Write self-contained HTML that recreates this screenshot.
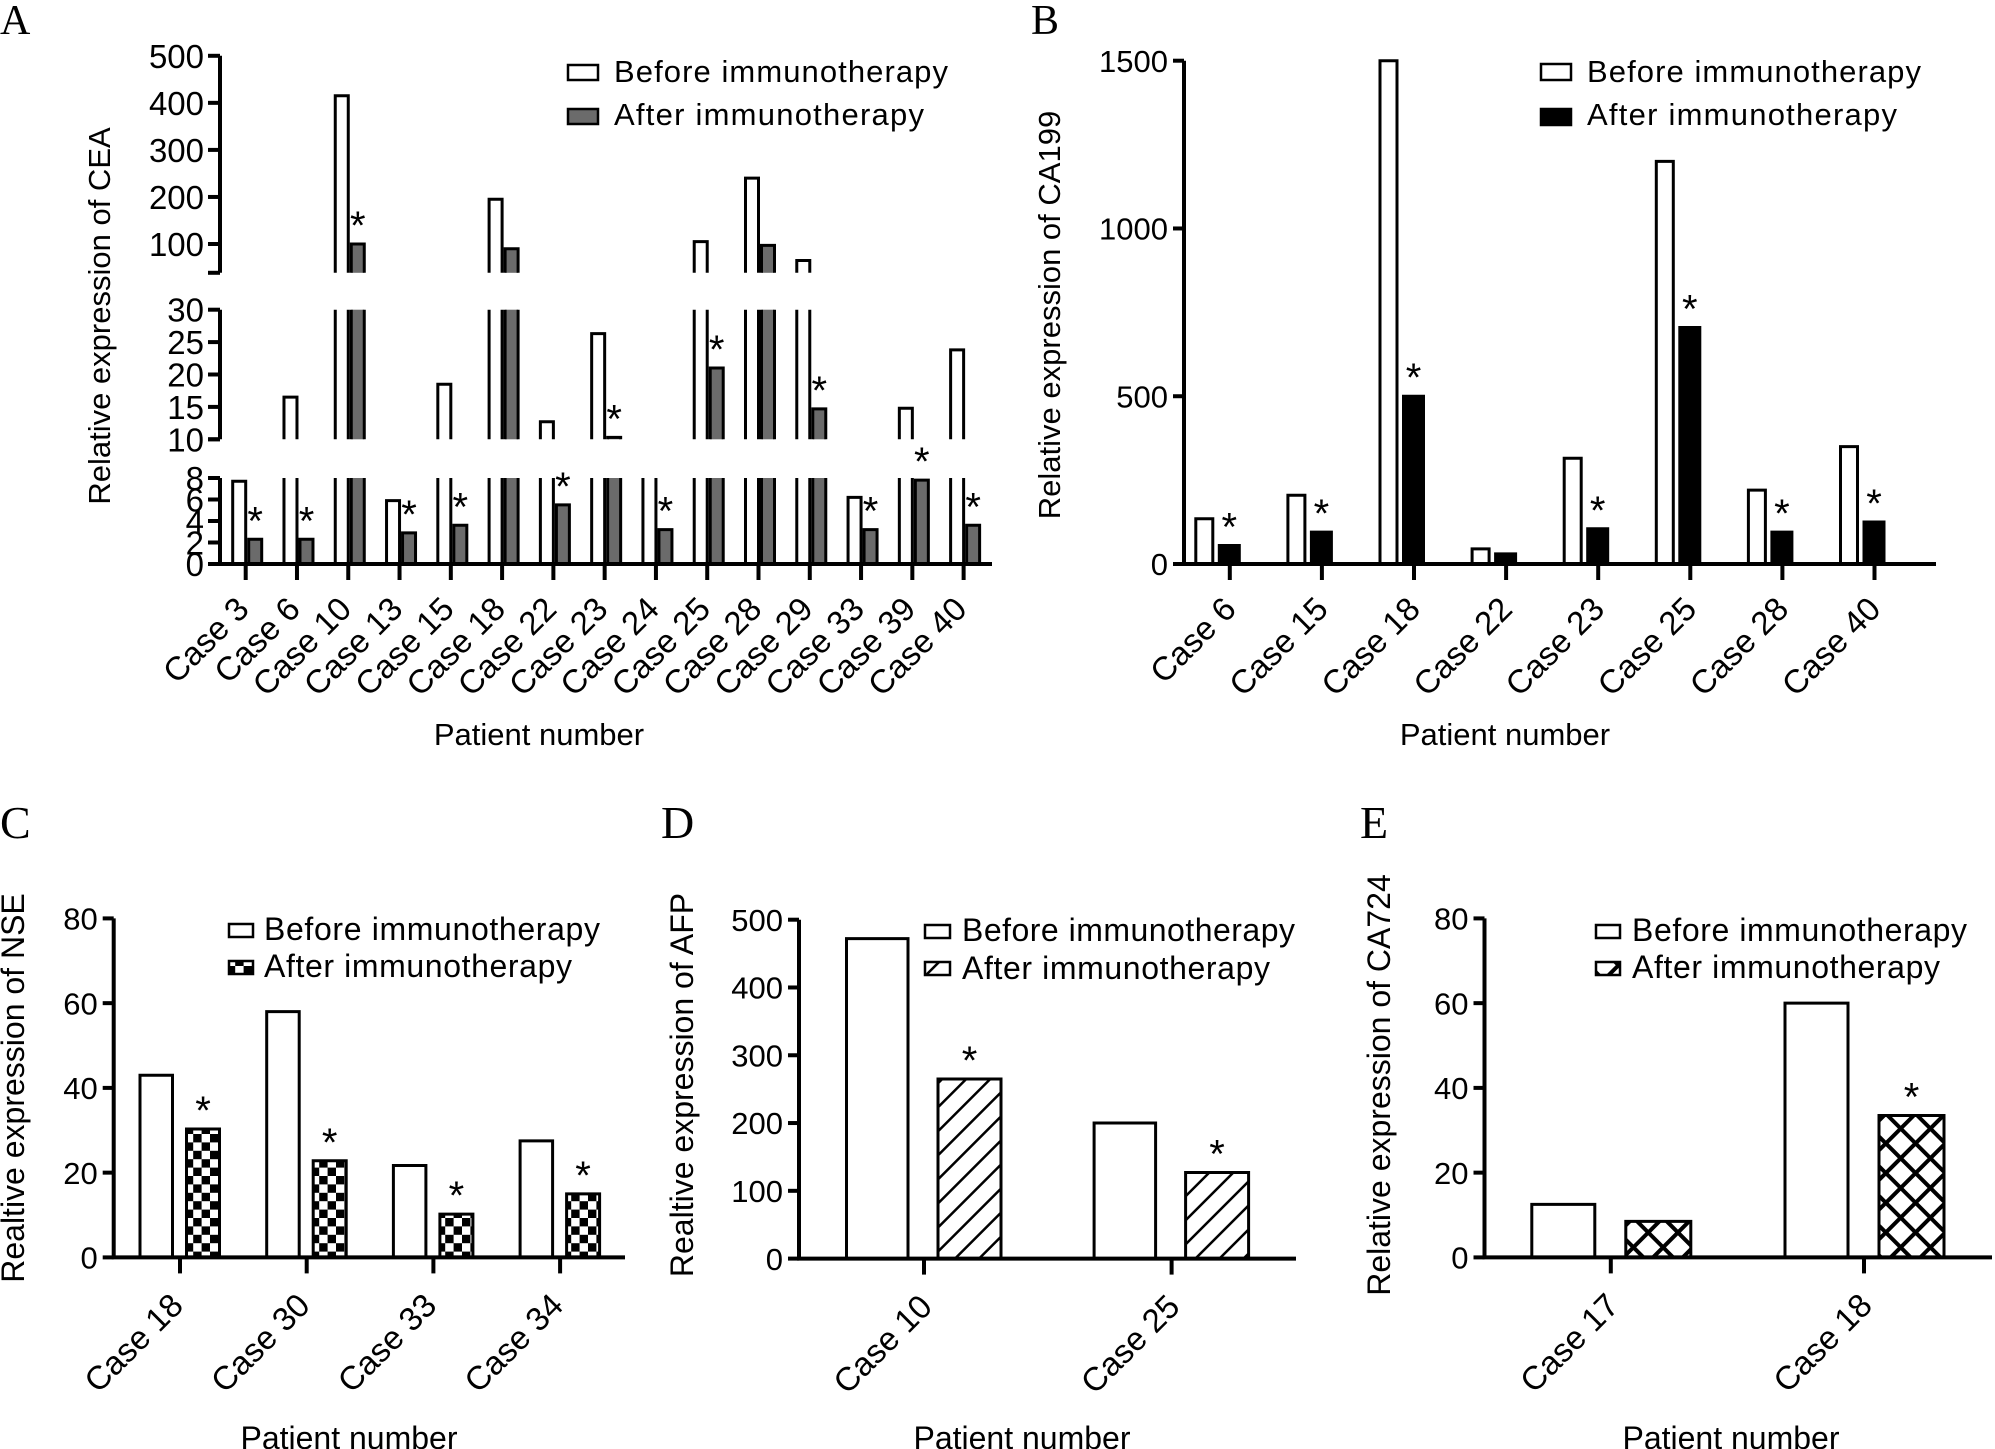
<!DOCTYPE html>
<html><head><meta charset="utf-8"><style>
html,body{margin:0;padding:0;background:#fff;}
svg{display:block;font-family:"Liberation Sans",Arial,sans-serif;}
.panel-letter{font-family:"Liberation Serif",serif;}
</style></head>
<body>
<svg id="fig" width="1995" height="1449" viewBox="0 0 1995 1449">
<defs>
<pattern id="checker" width="16.8" height="16.8" patternUnits="userSpaceOnUse">
<rect width="16.8" height="16.8" fill="#fff"/><rect width="8.4" height="8.4" fill="#000"/><rect x="8.4" y="8.4" width="8.4" height="8.4" fill="#000"/>
</pattern>
<pattern id="hatch" width="17" height="17" patternUnits="userSpaceOnUse" patternTransform="rotate(45)">
<rect width="17" height="17" fill="#fff"/><line x1="0" y1="0" x2="0" y2="17" stroke="#000" stroke-width="5"/>
</pattern>
<pattern id="cross" width="21" height="21" patternUnits="userSpaceOnUse" patternTransform="rotate(45)">
<rect width="21" height="21" fill="#000"/><rect x="2" y="2" width="17" height="17" fill="#fff"/>
</pattern>
</defs>
</svg>
<script>
// ---- Panel A (CEA) data ----
const catsA = ["Case 3","Case 6","Case 10","Case 13","Case 15","Case 18","Case 22","Case 23","Case 24","Case 25","Case 28","Case 29","Case 33","Case 39","Case 40"];
const beforeA = [7.7,16.5,415,5.9,18.5,195,12.7,26.3,8.4,105,240,65,6.2,14.8,23.8];
const afterA = [2.3,2.3,100,2.9,3.6,90,5.5,10.3,3.2,21,97,14.7,3.2,7.8,3.6];
const starsA = [1,1,1,1,1,0,1,1,1,1,0,1,1,1,1];
const ticksATop = [500,400,300,200,100];
const ticksAMid = [30,25,20,15,10];
const ticksABot = [8,6,4,2,0];
// ---- Panel B (CA199) ----
const catsB = ["Case 6","Case 15","Case 18","Case 22","Case 23","Case 25","Case 28","Case 40"];
const beforeB = [135,205,1500,45,315,1200,220,350];
const afterB = [55,95,500,30,105,705,95,125];
const starsB = [1,1,1,0,1,1,1,1];
const ticksB = [0,500,1000,1500];
// ---- Panel C (NSE) ----
const catsC = ["Case 18","Case 30","Case 33","Case 34"];
const beforeC = [43,58,21.7,27.5];
const afterC = [30.3,22.8,10.2,15];
const starsC = [1,1,1,1];
const ticksC = [0,20,40,60,80];
// ---- Panel D (AFP) ----
const catsD = ["Case 10","Case 25"];
const beforeD = [472,200];
const afterD = [265,127];
const starsD = [1,1];
const ticksD = [0,100,200,300,400,500];
// ---- Panel E (CA724) ----
const catsE = ["Case 17","Case 18"];
const beforeE = [12.5,60];
const afterE = [8.5,33.5];
const starsE = [0,1];
const ticksE = [0,20,40,60,80];

const NS = "http://www.w3.org/2000/svg";
const svg = document.getElementById("fig");
function mk(tag, parent, attrs) {
  const e = document.createElementNS(NS, tag);
  for (const k in attrs) e.setAttribute(k, attrs[k]);
  parent.appendChild(e);
  return e;
}
function txt(parent, s, attrs) {
  const t = mk("text", parent, attrs);
  t.textContent = s;
  return t;
}
function barRect(g, x, w, yTop, yBot, fill, openTop, openBot) {
  const r = mk("rect", g, {x: x, y: yTop, width: w, height: Math.max(0, yBot - yTop), fill: fill});
  let d = "M" + x + "," + yBot + "V" + yTop;
  d += openTop ? "M" + (x + w) + "," + yTop : "H" + (x + w);
  d += "V" + yBot;
  if (!openBot) d += "H" + x;
  mk("path", g, {d: d, fill: "none", stroke: "#000", "stroke-width": 3});
  return r;
}
function star(g, x, yTop) {
  const s = txt(g, "*", {x: x, y: yTop - 5, "font-size": 40, "text-anchor": "middle"});
  
  
}
function legend(g, x, y1, y2, bw, bh, fill, fs, tx, bl1, bl2, textLen) {
  const lg = mk("g", g, {});
  
  
  const b1 = mk("rect", lg, {x: x, y: y1, width: bw, height: bh, fill: "#fff", stroke: "#000", "stroke-width": 2.5});
  
  
  const t1 = txt(lg, "Before immunotherapy", {x: tx, y: bl1, "font-size": fs});
  
  
  const b2 = mk("rect", lg, {x: x, y: y2, width: bw, height: bh, fill: fill, stroke: "#000", "stroke-width": 2.5});
  
  
  const t2 = txt(lg, "After immunotherapy", {x: tx, y: bl2, "font-size": fs});
  
  
  if (textLen) { t1.setAttribute("textLength", textLen[0]); t2.setAttribute("textLength", textLen[1]); }
}
function letter(s, x, y, fs) {
  const t = txt(svg, s, {x: x, y: y, "font-size": fs, class: "panel-letter"});
  
  
}

function simplePanel(c) {
  const g = mk("g", svg, {});
  
  
  const maxV = c.ticks[c.ticks.length - 1];
  const y = v => c.y0 - (v / maxV) * (c.y0 - c.yMax);
  const xc = i => c.first + i * c.step;
  for (let i = 0; i < c.cats.length; i++) {
    const bg = mk("g", g, {});
    
    
    const rb = barRect(bg, xc(i) + c.bOff, c.bw, y(c.before[i]), c.y0, "#fff", false, false);
    
    
    const ra = barRect(bg, xc(i) + c.aOff, c.aw, y(c.after[i]), c.y0, c.fill, false, false);
    
    
    if (c.stars[i]) star(bg, xc(i) + c.aOff + c.aw / 2, y(c.after[i]));
  }
  const ax = mk("path", g, {d: "M" + c.axisX + "," + c.yMax + "V" + c.y0 + "M" + (c.axisX - 2) + "," + c.y0 + "H" + c.xEnd, stroke: "#000", "stroke-width": 4, fill: "none"});
  
  
  for (const t of c.ticks) {
    mk("line", g, {x1: c.axisX - 11, x2: c.axisX, y1: y(t), y2: y(t), stroke: "#000", "stroke-width": 4});
    const tl = txt(g, String(t), {x: c.axisX - 16, y: y(t) + c.tfs * 0.36, "font-size": c.tfs, "text-anchor": "end"});
    
    
  }
  for (let i = 0; i < c.cats.length; i++) {
    mk("line", g, {x1: xc(i), x2: xc(i), y1: c.y0, y2: c.y0 + 16, stroke: "#000", "stroke-width": 4});
    const ex = xc(i) + c.lblDx, ey = c.y0 + c.lblDy;
    const xl = txt(g, c.cats[i], {x: ex, y: ey, "font-size": c.xfs, "text-anchor": "end", transform: "rotate(-45 " + ex + " " + ey + ")"});
    
    
  }
  const yt = txt(g, c.ytitle, {x: c.ytX, y: c.ytY, "font-size": c.ytfs, "text-anchor": "middle", transform: "rotate(-90 " + c.ytX + " " + c.ytY + ")"});
  
  
  const xt = txt(g, "Patient number", {x: c.xtX, y: c.xtY, "font-size": c.xtfs, "text-anchor": "middle"});
  
  
  legend(g, c.lg[0], c.lg[1], c.lg[2], c.lg[3], c.lg[4], c.fill, c.lg[5], c.lg[6], c.lg[7], c.lg[8], c.lg[9]);
}

(function () {
  const g = mk("g", svg, {});
  
  
  const axisX = 220, xEnd = 992;
  const segs = [
    {min: 0, max: 8, y0: 564, y1: 478},
    {min: 10, max: 30, y0: 439.3, y1: 309.7},
    {min: 38.8, max: 500, y0: 272.8, y1: 55.8}
  ];
  const sy = (s, v) => s.y0 - (v - s.min) / (s.max - s.min) * (s.y0 - s.y1);
  function visTop(v) {
    let top = segs[0].y0;
    for (const s of segs) if (v > s.min) top = sy(s, Math.min(v, s.max));
    return top;
  }
  const xc = i => 245.7 + i * 51.28;
  for (let i = 0; i < catsA.length; i++) {
    const bg = mk("g", g, {});
    
    
    const pairs = [[beforeA[i], xc(i) - 13, "#fff", 'bar-before'], [afterA[i], xc(i) + 3, "#6b6b6b", 'bar-after']];
    for (const [v, x, fill, nm] of pairs) {
      segs.forEach((s, k) => {
        if (v > s.min) {
          const r = barRect(bg, x, 13, sy(s, Math.min(v, s.max)), s.y0, fill, v > s.max, k > 0);
          
          
        }
      });
    }
    if (starsA[i]) star(bg, xc(i) + 9.5, visTop(afterA[i]));
  }
  const tickSets = [[ticksABot, segs[0]], [ticksAMid, segs[1]], [ticksATop, segs[2]]];
  segs.forEach(s => {
    const l = mk("line", g, {x1: axisX, x2: axisX, y1: s.y1, y2: s.y0, stroke: "#000", "stroke-width": 4});
    
    
    mk("line", g, {x1: axisX - 12, x2: axisX, y1: s.y0, y2: s.y0, stroke: "#000", "stroke-width": 4});
  });
  for (const [ts, s] of tickSets) {
    for (const t of ts) {
      mk("line", g, {x1: axisX - 12, x2: axisX, y1: sy(s, t), y2: sy(s, t), stroke: "#000", "stroke-width": 4});
      const tl = txt(g, String(t), {x: axisX - 16, y: sy(s, t) + 12, "font-size": 33, "text-anchor": "end"});
      
      
    }
  }
  const xa = mk("line", g, {x1: axisX - 2, x2: xEnd, y1: 564, y2: 564, stroke: "#000", "stroke-width": 4});
  
  
  for (let i = 0; i < catsA.length; i++) {
    mk("line", g, {x1: xc(i), x2: xc(i), y1: 564, y2: 580, stroke: "#000", "stroke-width": 4});
    const ex = xc(i) + 5, ey = 564 + 47;
    const xl = txt(g, catsA[i], {x: ex, y: ey, "font-size": 33, "text-anchor": "end", transform: "rotate(-45 " + ex + " " + ey + ")"});
    
    
  }
  const yt = txt(g, "Relative expression of CEA", {x: 110, y: 316, "font-size": 31, "text-anchor": "middle", transform: "rotate(-90 110 316)"});
  
  
  const xt = txt(g, "Patient number", {x: 539, y: 745, "font-size": 31, "text-anchor": "middle"});
  
  
  legend(g, 568, 65, 109, 30, 15, "#6b6b6b", 31, 614, 82, 125, [334, 310]);
})();
letter("A", 0, 34, 42);

simplePanel({name: "panel-b-ca199", cats: catsB, before: beforeB, after: afterB, stars: starsB, ticks: ticksB,
  axisX: 1184, xEnd: 1936, y0: 564, yMax: 60.7, first: 1229.8, step: 92.1, bOff: -34, bw: 17, aOff: -10.5, aw: 20,
  fill: "#000", tfs: 31, xfs: 33, lblDx: 8, lblDy: 47, ytitle: "Relative expression of CA199", ytX: 1060, ytY: 315, ytfs: 31,
  xtX: 1505, xtY: 745, xtfs: 31, lg: [1541, 64, 109, 30, 16, 31, 1587, 82, 125, [334, 310]]});
letter("B", 1031, 34, 42);

simplePanel({name: "panel-c-nse", cats: catsC, before: beforeC, after: afterC, stars: starsC, ticks: ticksC,
  axisX: 113.7, xEnd: 625, y0: 1257.4, yMax: 918.4, first: 180, step: 126.7, bOff: -40, bw: 32.5, aOff: 6.5, aw: 33,
  fill: "url(#checker)", tfs: 31, xfs: 33, lblDx: 5, lblDy: 50, ytitle: "Realtive expression of NSE", ytX: 24, ytY: 1088, ytfs: 32,
  xtX: 349, xtY: 1449, xtfs: 32, lg: [229, 924, 961, 24, 13, 32, 264, 940, 977, [336, 308]]});
letter("C", 0, 838, 46);

simplePanel({name: "panel-d-afp", cats: catsD, before: beforeD, after: afterD, stars: starsD, ticks: ticksD,
  axisX: 799, xEnd: 1296, y0: 1258.6, yMax: 919.7, first: 924, step: 247.6, bOff: -77.5, bw: 61.5, aOff: 14, aw: 63,
  fill: "url(#hatch)", tfs: 31, xfs: 33, lblDx: 10, lblDy: 50, ytitle: "Realtive expression of AFP", ytX: 693, ytY: 1085, ytfs: 32,
  xtX: 1022, xtY: 1449, xtfs: 32, lg: [925, 925, 962, 25, 13, 32, 962, 941, 979, [333, 308]]});
letter("D", 661, 838, 46);

simplePanel({name: "panel-e-ca724", cats: catsE, before: beforeE, after: afterE, stars: starsE, ticks: ticksE,
  axisX: 1484.5, xEnd: 1992, y0: 1257.4, yMax: 918.4, first: 1610.8, step: 253.2, bOff: -79, bw: 63, aOff: 15, aw: 65,
  fill: "url(#cross)", tfs: 31, xfs: 33, lblDx: 10, lblDy: 50, ytitle: "Relative expression of CA724", ytX: 1390, ytY: 1085, ytfs: 32,
  xtX: 1731, xtY: 1449, xtfs: 32, lg: [1596, 925, 962, 24, 13, 32, 1632, 941, 978, [335, 308]]});
letter("E", 1360, 838, 46);
</script>
</body></html>
